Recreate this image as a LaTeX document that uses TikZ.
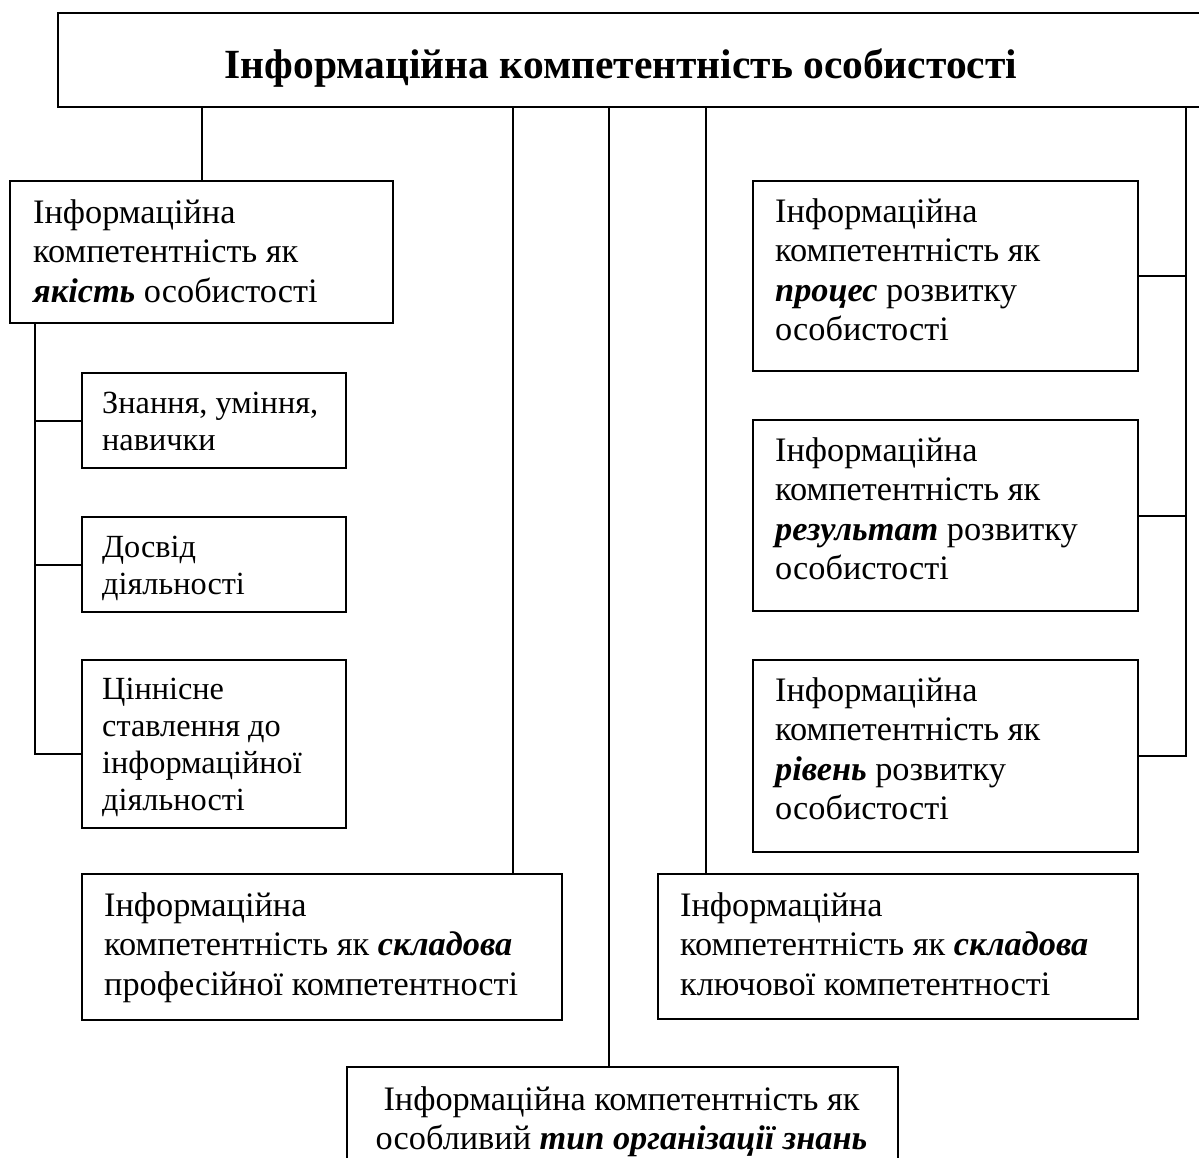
\documentclass[tikz,border=0pt]{standalone}
\usepackage{fontspec}
\setmainfont{Liberation Serif}
\newcommand\emb[1]{\textbf{\textit{#1}}}
\begin{document}
\begin{tikzpicture}[x=1pt,y=-1pt,
  box/.style={draw, line width=2pt, inner sep=0pt, anchor=north west},
  conn/.style={line width=2pt},
  txt/.style={anchor=base west, inner sep=0pt, align=left, font=\fontsize{34.3}{39.5}\selectfont},
  ctxt/.style={anchor=base west, inner sep=0pt, align=left, font=\fontsize{32.3}{37.3}\selectfont}]
\useasboundingbox (0,0) rectangle (1199,1158);
\clip (0,0) rectangle (1199,1158);
% boxes
\node[box, minimum width=1153pt, minimum height=94pt] (title) at (57,12) {};
\node[box, minimum width=383pt, minimum height=142pt] (q) at (9,180) {};
\node[box, minimum width=264pt, minimum height=95pt] (c1) at (81,372) {};
\node[box, minimum width=264pt, minimum height=95pt] (c2) at (81,516) {};
\node[box, minimum width=264pt, minimum height=168pt] (c3) at (81,659) {};
\node[box, minimum width=480pt, minimum height=146pt] (prof) at (81,873) {};
\node[box, minimum width=480pt, minimum height=145pt] (key) at (657,873) {};
\node[box, minimum width=551pt, minimum height=120pt] (org) at (346,1066) {};
\node[box, minimum width=385pt, minimum height=190pt] (p1) at (752,180) {};
\node[box, minimum width=385pt, minimum height=191pt] (p2) at (752,419) {};
\node[box, minimum width=385pt, minimum height=192pt] (p3) at (752,659) {};
% texts (base anchor = baseline of the last line)
\node[anchor=base, inner sep=0pt, font=\fontsize{41.5}{48}\bfseries\selectfont] (tt) at (621,79) {Інформаційна компетентність особистості};
\node[txt] (tq) at (33,302) {Інформаційна\\компетентність як\\\emb{якість} особистості};
\node[ctxt] (tc1) at (102,450.3) {Знання, уміння,\\навички};
\node[ctxt] (tc2) at (102,594.3) {Досвід\\діяльності};
\node[ctxt] (tc3) at (102,810.9) {Ціннісне\\ставлення до\\інформаційної\\діяльності};
\node[txt] (tp1) at (775,340.5) {Інформаційна\\компетентність як\\\emb{процес} розвитку\\особистості};
\node[txt] (tp2) at (775,579.5) {Інформаційна\\компетентність як\\\emb{результат} розвитку\\особистості};
\node[txt] (tp3) at (775,819.5) {Інформаційна\\компетентність як\\\emb{рівень} розвитку\\особистості};
\node[txt] (tprof) at (104,995) {Інформаційна\\компетентність як \emb{складова}\\професійної компетентності};
\node[txt] (tkey) at (680,995) {Інформаційна\\компетентність як \emb{складова}\\ключової компетентності};
\node[txt, anchor=base, align=center] (torg) at (621.5,1149.5) {Інформаційна компетентність як\\особливий \emb{тип організації знань}};
% connectors
\coordinate (xa) at (513,0);
\coordinate (xb) at (609,0);
\coordinate (xc) at (706,0);
\coordinate (xr) at (1186,0);
\coordinate (xl) at (35,0);
\coordinate (lb) at (35,754);
\draw[conn] (q.north) -- (q.north |- title.south);
\draw[conn] (title.south -| xa) -- (prof.north -| xa);
\draw[conn] (title.south -| xb) -- (org.north -| xb);
\draw[conn] (title.south -| xc) -- (key.north -| xc);
\draw[conn] (title.south -| xr) -- (p3.east -| xr) -- (p3.east);
\draw[conn] (p1.east) -- (p1.east -| xr);
\draw[conn] (p2.east) -- (p2.east -| xr);
\draw[conn] (q.south -| xl) -- (lb) -- (lb -| c3.west);
\draw[conn] (c1.west) -- (c1.west -| xl);
\draw[conn] (c2.west) -- (c2.west -| xl);
\end{tikzpicture}
\end{document}
